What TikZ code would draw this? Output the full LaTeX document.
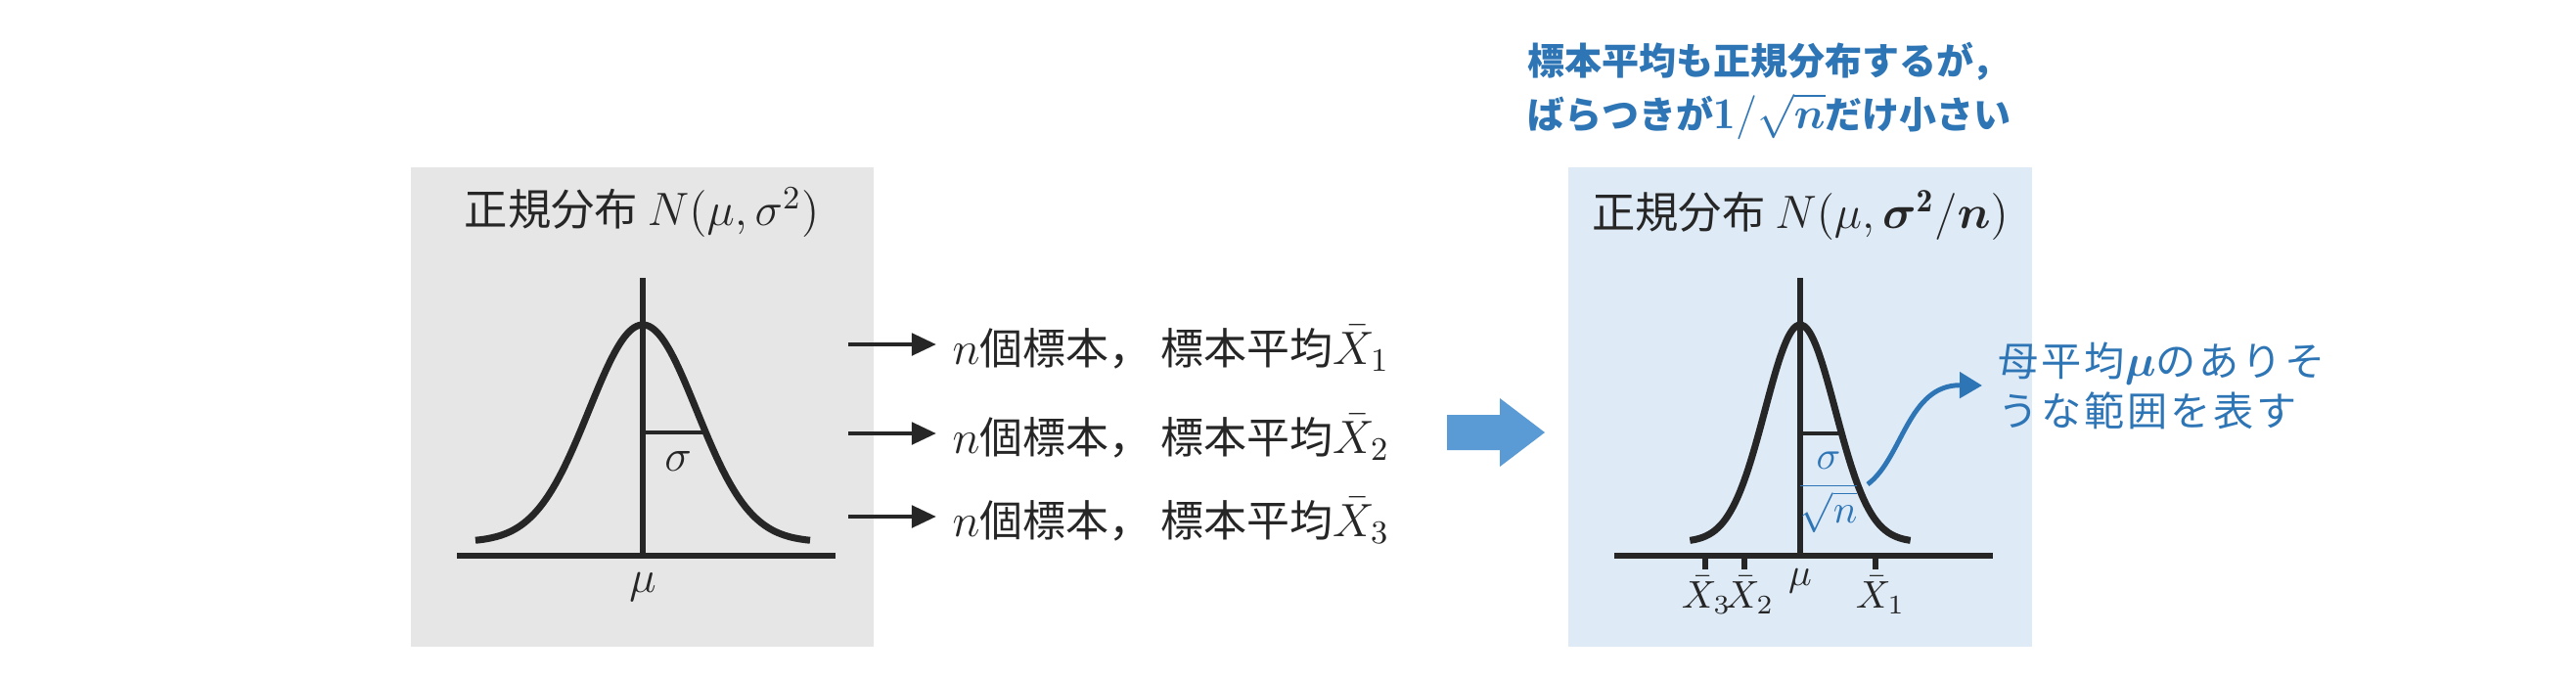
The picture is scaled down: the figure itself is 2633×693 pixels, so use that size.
\RequirePackage{fix-cm}
\documentclass[tikz,border=0pt]{standalone}
\usepackage{amsmath,amssymb}
\usepackage{fontspec}
\newfontfamily\jpfont{Noto Sans CJK JP}
\newfontfamily\jpwide[LetterSpace=7]{Noto Sans CJK JP}
\usepackage{tikz}
\usetikzlibrary{arrows.meta}
\usepackage{xcolor}
\definecolor{boxgray}{HTML}{E7E6E6}
\definecolor{boxblue}{HTML}{DEEBF7}
\definecolor{arrblue}{HTML}{5B9BD5}
\definecolor{txtblue}{HTML}{2E75B6}
\definecolor{ink}{HTML}{262626}

\begin{document}
\begin{tikzpicture}[x=0.01cm,y=0.01cm,>={Triangle[length=0.25cm,width=0.22cm]},
  bell/.style={ink,line width=2pt},
  axisln/.style={ink,line width=1.7pt},
  sigln/.style={ink,line width=1.2pt},
  arr/.style={ink,line width=1.4pt,->},
  title/.style={ink,inner sep=0,font=\jpfont\fontsize{12.6}{15}\selectfont},
  smp/.style={ink,anchor=base west,inner xsep=0.16cm,inner ysep=0,font=\jpfont\fontsize{12.5}{15}\selectfont},
  lbl/.style={ink,inner sep=0,font=\fontsize{13.2}{15}\selectfont},
  lblsm/.style={ink,inner sep=0,font=\fontsize{11.2}{13}\selectfont},
  head/.style={txtblue,anchor=west,align=left,inner sep=0,font=\jpfont\bfseries\fontsize{10.8}{15.6}\selectfont},
  anno/.style={txtblue,anchor=west,align=left,inner xsep=0.16cm,inner ysep=0,font=\jpwide\fontsize{11.7}{14.5}\selectfont}]
\useasboundingbox (0,0) rectangle (2633,693);
\fill[boxgray] (420,32) rectangle (893,522);
\fill[boxblue] (1603,32) rectangle (2077,522);

\node[title] (titL) at (656,476) {正規分布 {\fontsize{13.6}{15}\selectfont$N(\mu,\sigma^2)$}};
\draw[axisln] (467,125) -- (854,125);
\draw[axisln] (657,125) -- (657,409);
\draw[bell] plot[domain=-3.11:3.11,samples=80,smooth] ({657+55*\x},{139+222*exp(-\x*\x/2)});
\draw[sigln] (657,251) -- (721,251);
\node[lbl] (sigL) at (693,222) {$\sigma$};
\node[lbl] (muL) at (657,93) {$\mu$};

\coordinate (s1) at (867,341);
\coordinate (s2) at (867,250);
\coordinate (s3) at (867,165);
\node[smp] (t1) at (957,321) {{\fontsize{13.6}{15}\selectfont$n$}個標本，\hspace{0.2em}標本平均{\fontsize{13.6}{15}\selectfont$\bar{X}_1$}};
\node[smp] (t2) at (957,230) {{\fontsize{13.6}{15}\selectfont$n$}個標本，\hspace{0.2em}標本平均{\fontsize{13.6}{15}\selectfont$\bar{X}_2$}};
\node[smp] (t3) at (957,145) {{\fontsize{13.6}{15}\selectfont$n$}個標本，\hspace{0.2em}標本平均{\fontsize{13.6}{15}\selectfont$\bar{X}_3$}};
\draw[arr] (s1) -- (s1 -| t1.west);
\draw[arr] (s2) -- (s2 -| t2.west);
\draw[arr] (s3) -- (s3 -| t3.west);

\fill[arrblue] (1479,233) -- (1533,233) -- (1533,216) -- (1579,251) -- (1533,286) -- (1533,269) -- (1479,269) -- cycle;

\node[head] (head) at (1561,600) {標本平均も正規分布するが，\\ばらつきが{\fontsize{12.8}{15.6}\selectfont$\mathbf{1}/\sqrt{\boldsymbol{n}}$}だけ小さい};

\node[title] (titR) at (1840,473) {正規分布 {\fontsize{13.6}{15}\selectfont$N(\mu,\boldsymbol{\sigma}^{\mathbf{2}}/\boldsymbol{n})$}};
\draw[axisln] (1650,125) -- (2037,125);
\draw[axisln] (1840,125) -- (1840,409);
\draw[bell] plot[domain=-3.13:3.13,samples=80,smooth] ({1840+36*\x},{139+222*exp(-\x*\x/2)});
\draw[sigln] (1840,250) -- (1882,250);
\node[lbl,txtblue,font=\fontsize{11.6}{13}\selectfont] (frac) at (1869,190) {$\dfrac{\sigma}{\sqrt{n}}$};
\draw[axisln] (1743,125) -- (1743,111);
\draw[axisln] (1783,125) -- (1783,111);
\draw[axisln] (1917,125) -- (1917,111);
\node[lblsm] (x3) at (1744,85) {$\bar{X}_3$};
\node[lblsm] (x2) at (1788,85) {$\bar{X}_2$};
\node[lblsm] (x1) at (1922,85) {$\bar{X}_1$};
\node[lblsm] (muR) at (1840,99) {$\mu$};

\node[anno] (anno) at (2026,299) {母平均{\fontsize{12.8}{14.5}\selectfont$\boldsymbol{\mu}$}のありそ\\うな範囲を表す};
\coordinate (rng) at (1909,198);
\draw[txtblue,line width=1.4pt,-{Triangle[length=0.23cm,width=0.26cm]}] (rng) .. controls (1945,225) and (1950,300) .. (anno.west);
\end{tikzpicture}
\end{document}
